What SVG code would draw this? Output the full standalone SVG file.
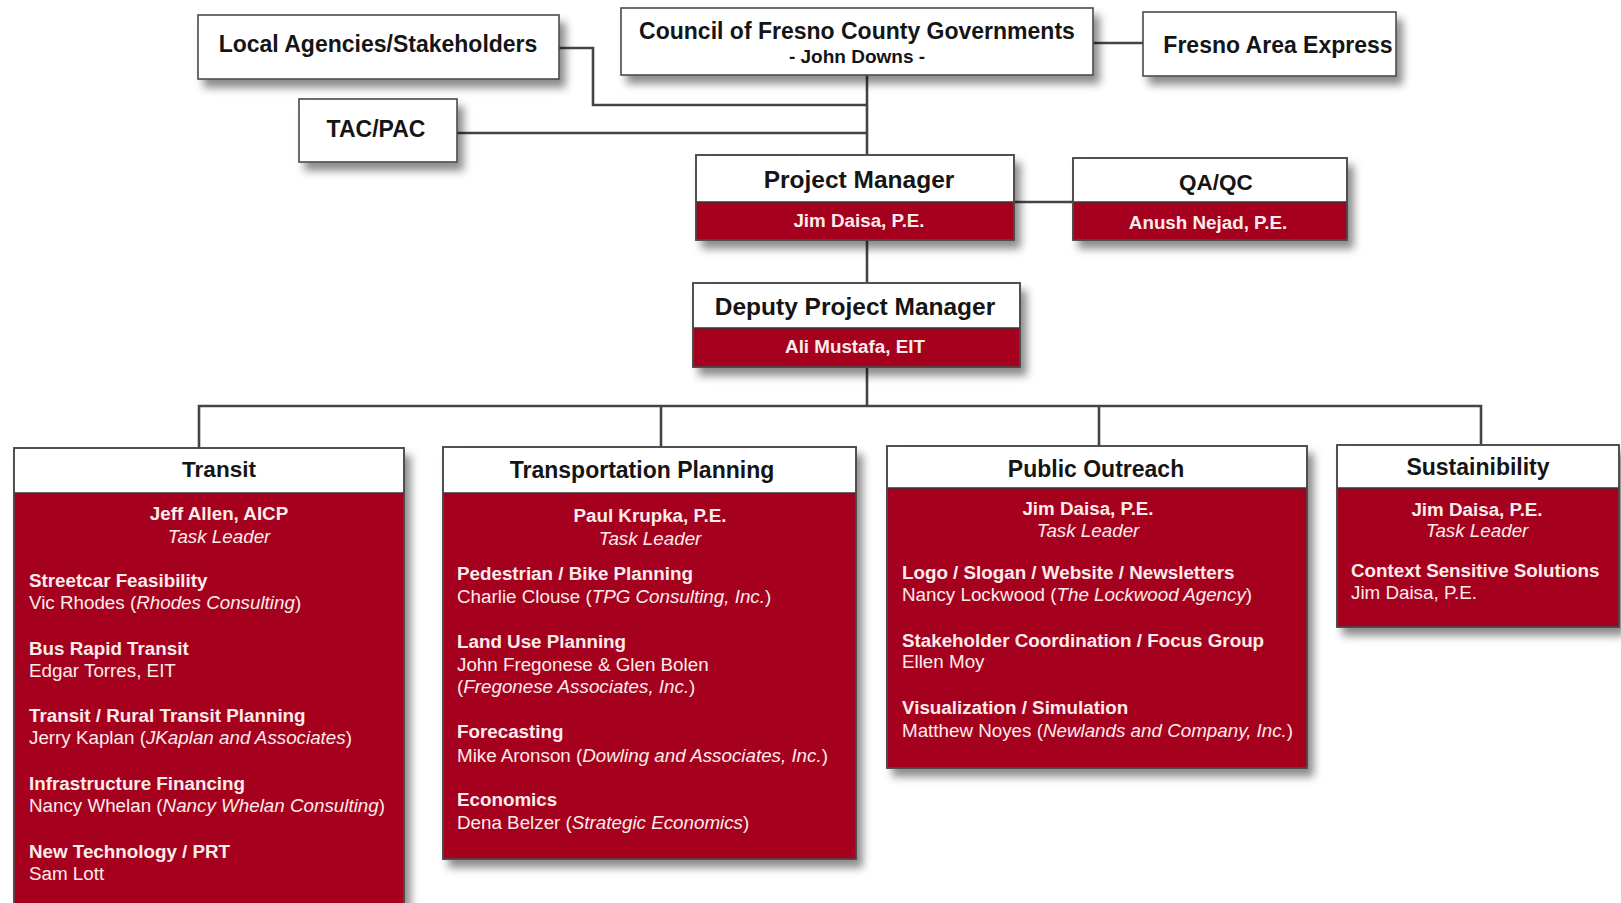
<svg xmlns="http://www.w3.org/2000/svg" width="1621" height="903" viewBox="0 0 1621 903">
<defs>
<filter id="sh" x="-10%" y="-20%" width="130%" height="150%">
<feDropShadow dx="6" dy="8" stdDeviation="4.5" flood-color="#000" flood-opacity="0.45"/>
</filter>
<style>
.box{fill:#fff;stroke:#4a4a4a;stroke-width:1.6;}
.red{fill:#a6001f;}
.sep{stroke:#333;stroke-width:1.6;}
.frame{fill:none;stroke:#4a4a4a;stroke-width:1.6;}
.conn{fill:none;stroke:#444;stroke-width:2.6;}
text{font-family:"Liberation Sans",Arial,Helvetica,sans-serif;}
.t{font-weight:bold;fill:#151515;text-anchor:middle;}
.w{fill:#fbecea;font-size:18.8px;}
.wb{font-weight:bold;}
.wc{text-anchor:middle;}
.i{font-style:italic;}
</style>
</defs>
<rect width="1621" height="903" fill="#fff"/>

<g id="connectors">
<path class="conn" d="M559,48 H593 V105 H867"/>
<path class="conn" d="M457,133 H867"/>
<path class="conn" d="M867,75 V155"/>
<path class="conn" d="M1093,43 H1144"/>
<path class="conn" d="M1014,202 H1073"/>
<path class="conn" d="M867,240 V283"/>
<path class="conn" d="M867,367 V406"/>
<path class="conn" d="M199,448 V406 H1481 V445"/>
<path class="conn" d="M661,406 V447"/>
<path class="conn" d="M1099,406 V446"/>
</g>

<g id="local">
<rect class="box" x="198" y="15" width="361" height="64" filter="url(#sh)"/>
<text class="t" x="378" y="52" font-size="23">Local Agencies/Stakeholders</text>
</g>

<g id="tacpac">
<rect class="box" x="299" y="99" width="158" height="63" filter="url(#sh)"/>
<text class="t" x="376" y="137" font-size="23">TAC/PAC</text>
</g>

<g id="council">
<rect class="box" x="621" y="8" width="472" height="67" filter="url(#sh)"/>
<text class="t" x="857" y="39" font-size="23">Council of Fresno County Governments</text>
<text class="t" x="857" y="63" font-size="19">- John Downs -</text>
</g>

<g id="fax">
<rect class="box" x="1143" y="12" width="253" height="64" filter="url(#sh)"/>
<text class="t" x="1278" y="53" font-size="23">Fresno Area Express</text>
</g>

<g id="pm">
<rect class="box" x="696" y="155" width="318" height="85" filter="url(#sh)"/>
<rect class="red" x="696" y="202" width="318" height="38"/>
<line class="sep" x1="696" y1="202" x2="1014" y2="202"/>
<rect class="frame" x="696" y="155" width="318" height="85"/>
<text class="t" x="859" y="188" font-size="24.5">Project Manager</text>
<text class="w wb wc" x="859" y="227" font-size="19">Jim Daisa, P.E.</text>
</g>

<g id="qaqc">
<rect class="box" x="1073" y="158" width="274" height="82" filter="url(#sh)"/>
<rect class="red" x="1073" y="202" width="274" height="38"/>
<line class="sep" x1="1073" y1="202" x2="1347" y2="202"/>
<rect class="frame" x="1073" y="158" width="274" height="82"/>
<text class="t" x="1216" y="190" font-size="22.5">QA/QC</text>
<text class="w wb wc" x="1208" y="229" font-size="21">Anush Nejad, P.E.</text>
</g>

<g id="dpm">
<rect class="box" x="693" y="283" width="327" height="84" filter="url(#sh)"/>
<rect class="red" x="693" y="328" width="327" height="39"/>
<line class="sep" x1="693" y1="328" x2="1020" y2="328"/>
<rect class="frame" x="693" y="283" width="327" height="84"/>
<text class="t" x="855" y="315" font-size="24.5">Deputy Project Manager</text>
<text class="w wb wc" x="855" y="353" font-size="19.5">Ali Mustafa, EIT</text>
</g>

<g id="transit">
<rect class="box" x="14" y="448" width="390" height="470" filter="url(#sh)"/>
<rect class="red" x="14" y="493" width="390" height="425"/>
<line class="sep" x1="14" y1="493" x2="404" y2="493"/>
<rect class="frame" x="14" y="448" width="390" height="470"/>
<text class="t" x="219" y="477" font-size="22.5">Transit</text>
<text class="w wb wc" x="219" y="520">Jeff Allen, AICP</text>
<text class="w i wc" x="219" y="543">Task Leader</text>
<text class="w wb" x="29" y="587">Streetcar Feasibility</text>
<text class="w" x="29" y="609">Vic Rhodes (<tspan class="i">Rhodes Consulting</tspan>)</text>
<text class="w wb" x="29" y="655">Bus Rapid Transit</text>
<text class="w" x="29" y="677">Edgar Torres, EIT</text>
<text class="w wb" x="29" y="722">Transit / Rural Transit Planning</text>
<text class="w" x="29" y="744">Jerry Kaplan (<tspan class="i">JKaplan and Associates</tspan>)</text>
<text class="w wb" x="29" y="790">Infrastructure Financing</text>
<text class="w" x="29" y="812">Nancy Whelan (<tspan class="i">Nancy Whelan Consulting</tspan>)</text>
<text class="w wb" x="29" y="858">New Technology / PRT</text>
<text class="w" x="29" y="880">Sam Lott</text>
</g>

<g id="transportation">
<rect class="box" x="443" y="447" width="413" height="412" filter="url(#sh)"/>
<rect class="red" x="443" y="493" width="413" height="366"/>
<line class="sep" x1="443" y1="493" x2="856" y2="493"/>
<rect class="frame" x="443" y="447" width="413" height="412"/>
<text class="t" x="642" y="478" font-size="23">Transportation Planning</text>
<text class="w wb wc" x="650" y="522">Paul Krupka, P.E.</text>
<text class="w i wc" x="650" y="545">Task Leader</text>
<text class="w wb" x="457" y="580">Pedestrian / Bike Planning</text>
<text class="w" x="457" y="603">Charlie Clouse (<tspan class="i">TPG Consulting, Inc.</tspan>)</text>
<text class="w wb" x="457" y="648">Land Use Planning</text>
<text class="w" x="457" y="671">John Fregonese &amp; Glen Bolen</text>
<text class="w" x="457" y="693">(<tspan class="i">Fregonese Associates, Inc.</tspan>)</text>
<text class="w wb" x="457" y="738">Forecasting</text>
<text class="w" x="457" y="762">Mike Aronson (<tspan class="i">Dowling and Associates, Inc.</tspan>)</text>
<text class="w wb" x="457" y="806">Economics</text>
<text class="w" x="457" y="829">Dena Belzer (<tspan class="i">Strategic Economics</tspan>)</text>
</g>

<g id="outreach">
<rect class="box" x="887" y="446" width="420" height="322" filter="url(#sh)"/>
<rect class="red" x="887" y="488" width="420" height="280"/>
<line class="sep" x1="887" y1="488" x2="1307" y2="488"/>
<rect class="frame" x="887" y="446" width="420" height="322"/>
<text class="t" x="1096" y="477" font-size="23">Public Outreach</text>
<text class="w wb wc" x="1088" y="515">Jim Daisa, P.E.</text>
<text class="w i wc" x="1088" y="537">Task Leader</text>
<text class="w wb" x="902" y="579">Logo / Slogan / Website / Newsletters</text>
<text class="w" x="902" y="601">Nancy Lockwood (<tspan class="i">The Lockwood Agency</tspan>)</text>
<text class="w wb" x="902" y="647">Stakeholder Coordination / Focus Group</text>
<text class="w" x="902" y="668">Ellen Moy</text>
<text class="w wb" x="902" y="714">Visualization / Simulation</text>
<text class="w" x="902" y="737">Matthew Noyes (<tspan class="i">Newlands and Company, Inc.</tspan>)</text>
</g>

<g id="sustainability">
<rect class="box" x="1337" y="445" width="282" height="182" filter="url(#sh)"/>
<rect class="red" x="1337" y="488" width="282" height="139"/>
<line class="sep" x1="1337" y1="488" x2="1619" y2="488"/>
<rect class="frame" x="1337" y="445" width="282" height="182"/>
<text class="t" x="1478" y="475" font-size="23">Sustainibility</text>
<text class="w wb wc" x="1477" y="516">Jim Daisa, P.E.</text>
<text class="w i wc" x="1477" y="537">Task Leader</text>
<text class="w wb" x="1351" y="577">Context Sensitive Solutions</text>
<text class="w" x="1351" y="599">Jim Daisa, P.E.</text>
</g>
</svg>
